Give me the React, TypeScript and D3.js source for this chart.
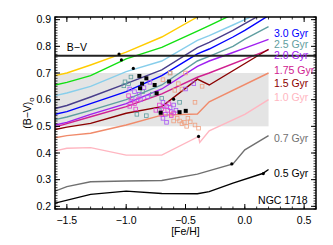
import * as d3 from 'd3';
import React from 'react';

// isochrone ages and their (B-V)0 vs [Fe/H] tracks
const ages = ['old4', 'old3', 'old2', 'old1', '3.0', '2.5', '2.0', '1.75', '1.5', '1.25', '1.0', '0.7', '0.5'];

const fehGrid = [-1.6, -1.5, -1.3, -1.0, -0.7, -0.4, -0.3, -0.1, 0.0, 0.2];

const bvYellow = [0.69, 0.70, 0.73, 0.778, 0.835, 0.91, 0.935, 0.98, 1.0, 1.04];
const bvGreen = [0.655, 0.665, 0.69, 0.753, 0.796, 0.857, 0.878, 0.92, 0.94, 0.98];
const bvSkyBlue = [0.615, 0.625, 0.65, 0.705, 0.745, 0.822, 0.84, 0.88, 0.9, 0.94];
const bvSlate = [0.567, 0.578, 0.61, 0.66, 0.712, 0.795, 0.815, 0.86, 0.885, 0.935];
const bv30 = [0.545, 0.555, 0.585, 0.63, 0.69, 0.772, 0.79, 0.835, 0.86, 0.915];
const bv25 = [0.525, 0.535, 0.56, 0.6, 0.655, 0.745, 0.762, 0.8, 0.827, 0.874];
const bv20 = [0.505, 0.515, 0.545, 0.585, 0.64, 0.725, 0.745, 0.777, 0.793, 0.826];

const fehMid = [-1.6, -1.5, -1.3, -1.0, -0.7, -0.4, -0.3, 0.2];
const bv175 = [0.497, 0.51, 0.536, 0.574, 0.622, 0.684, 0.70, 0.787];
const bv15 = [0.488, 0.497, 0.511, 0.549, 0.574, 0.677, 0.655, 0.789];
const bv125 = [0.457, 0.465, 0.474, 0.505, 0.542, 0.546, 0.592, 0.70];

const feh10 = [-1.6, -1.5, -1.3, -1.0, -0.7, -0.39, -0.38, -0.3, 0.0, 0.2];
const bv10 = [0.408, 0.418, 0.42, 0.392, 0.392, 0.462, 0.44, 0.483, 0.545, 0.6];

const feh07 = [-1.6, -1.5, -1.3, -1.0, -0.7, -0.4, -0.1, 0.0, 0.2];
const bv07 = [0.257, 0.274, 0.292, 0.295, 0.297, 0.321, 0.359, 0.412, 0.465];

const feh05 = [-1.6, -1.3, -1.0, -0.7, -0.4, -0.3, -0.1, 0.15, 0.2];
const bv05 = [0.212, 0.245, 0.257, 0.248, 0.247, 0.255, 0.287, 0.323, 0.338];

const tracks = [
  { age: ages[0], feh: fehGrid, bv: bvYellow, color: '#ffcc00' },
  { age: ages[1], feh: fehGrid, bv: bvGreen, color: '#11e011' },
  { age: ages[2], feh: fehGrid, bv: bvSkyBlue, color: '#87ceeb' },
  { age: ages[3], feh: fehGrid, bv: bvSlate, color: '#483d8b' },
  { age: ages[4], feh: fehGrid, bv: bv30, color: '#0000ff' },
  { age: ages[5], feh: fehGrid, bv: bv25, color: '#5f9ea0' },
  { age: ages[6], feh: fehGrid, bv: bv20, color: '#a020f0' },
  { age: ages[7], feh: fehMid, bv: bv175, color: '#d02090' },
  { age: ages[8], feh: fehMid, bv: bv15, color: '#8b0000' },
  { age: ages[9], feh: fehMid, bv: bv125, color: '#f08a6a' },
  { age: ages[10], feh: feh10, bv: bv10, color: '#ffb6c1' },
  { age: ages[11], feh: feh07, bv: bv07, color: '#707070' },
  { age: ages[12], feh: feh05, bv: bv05, color: '#000000' },
];

// star clusters
const tealSq: [number, number][] = [
  [-1.01, 0.667], [-1.02, 0.652], [-0.98, 0.66], [-0.91, 0.545], [-0.83, 0.54], [-0.7, 0.605],
  [-0.63, 0.70], [-0.86, 0.63], [-0.78, 0.62], [-0.55, 0.59], [-0.96, 0.685], [-0.72, 0.56],
];
const violetSq: [number, number][] = [
  [-0.97, 0.64], [-0.93, 0.63], [-0.89, 0.62], [-0.85, 0.645], [-0.80, 0.665], [-0.95, 0.605],
  [-0.88, 0.60], [-0.82, 0.61], [-0.69, 0.59], [-0.66, 0.575], [-0.63, 0.57], [-0.6, 0.58],
  [-0.58, 0.56], [-0.62, 0.555], [-0.67, 0.545], [-0.69, 0.53], [-0.66, 0.515], [-0.43, 0.66], [-0.5, 0.64],
];
const magentaSq: [number, number][] = [
  [-0.98, 0.615], [-0.96, 0.595], [-0.93, 0.585], [-0.9, 0.6], [-0.97, 0.575], [-0.92, 0.565],
  [-0.72, 0.58], [-0.7, 0.565], [-0.68, 0.575], [-0.65, 0.56], [-0.62, 0.54], [-0.7, 0.545],
  [-0.75, 0.56], [-0.64, 0.585], [-0.6, 0.55],
];
const salmonSq: [number, number][] = [
  [-0.63, 0.70], [-0.56, 0.66], [-0.59, 0.635], [-0.42, 0.59], [-0.69, 0.675], [-0.53, 0.64],
  [-0.57, 0.53], [-0.55, 0.52], [-0.53, 0.51], [-0.51, 0.515], [-0.49, 0.50], [-0.46, 0.517],
  [-0.42, 0.505], [-0.39, 0.493], [-0.6, 0.52], [-0.62, 0.545], [-0.48, 0.53], [-0.5, 0.70], [-0.36, 0.65],
];
const blackSq: [number, number][] = [
  [-0.889, 0.689], [-0.83, 0.68], [-0.866, 0.66], [-0.883, 0.643], [-0.76, 0.655],
  [-0.743, 0.624], [-0.638, 0.668], [-0.709, 0.551], [-0.55, 0.553], [-0.498, 0.558],
];
const blackDots: [number, number][] = [
  [-1.06, 0.771], [-1.04, 0.749], [-0.94, 0.717], [-0.6, 0.602], [-0.39, 0.462], [-0.11, 0.359], [0.156, 0.323],
];

const bvLimit = 0.765;
const bandFeh = [-1.6, 0.2];
const bandBv = [0.5, 0.7];

const labelTexts = ['3.0 Gyr', '2.5 Gyr', '2.0 Gyr', '1.75 Gyr', '1.5 Gyr', '1.0 Gyr', '0.7 Gyr', '0.5 Gyr'];
const labelColors = ['#0000ff', '#5f9ea0', '#a020f0', '#d02090', '#8b0000', '#ffb6c1', '#707070', '#000000'];
const xTicks = [-1.5, -1.0, -0.5, 0.0, 0.5];
const yTicks = [0.2, 0.3, 0.4, 0.5, 0.6, 0.7, 0.8, 0.9];

const App: React.FC = () => {
  const W = 333;
  const H = 245;
  const margin = { top: 17, right: 17, bottom: 36, left: 55 };
  const w = W - margin.left - margin.right;
  const h = H - margin.top - margin.bottom;

  const x = d3.scaleLinear().domain([-1.6, 0.6]).range([0, w]);
  const y = d3.scaleLinear().domain([0.19, 0.91]).range([h, 0]);

  const line = d3.line<[number, number]>().x(d => x(d[0])).y(d => y(d[1]));

  const xMinor = d3.range(-16, 7).map(i => i / 10);
  const yMinor = d3.range(19, 92).map(i => i / 100);

  const font = 'Liberation Sans, Arial, Helvetica, sans-serif';
  const labelY = [0.85, 0.809, 0.768, 0.711, 0.663, 0.61, 0.456, 0.325];

  const sq = (pts: [number, number][], color: string, key: string) =>
    pts.map((p, i) => (
      <rect key={key + i} x={x(p[0]) - 1.8} y={y(p[1]) - 1.8} width={3.6} height={3.6}
        fill="none" stroke={color} strokeWidth={0.8} />
    ));

  return (
    <svg width={W} height={H} style={{ position: 'absolute', left: 0, top: 0 }} fontFamily={font}>
      <defs>
        <clipPath id="plot">
          <rect x={0} y={0} width={w} height={h} />
        </clipPath>
      </defs>
      <g transform={`translate(${margin.left},${margin.top})`}>
        <rect x={x(bandFeh[0])} y={y(bandBv[1])} width={x(bandFeh[1]) - x(bandFeh[0])}
          height={y(bandBv[0]) - y(bandBv[1])} fill="#e4e4e4" />
        <g clipPath="url(#plot)">
          {tracks.map(t => (
            <path key={t.age} d={line(t.feh.map((f, i) => [f, t.bv[i]]) as [number, number][]) || ''}
              fill="none" stroke={t.color} strokeWidth={1.4} />
          ))}
        </g>
        <line x1={0} x2={w} y1={y(bvLimit)} y2={y(bvLimit)} stroke="#222" strokeWidth={2} />
        <text x={x(-1.5)} y={y(bvLimit) - 5} fontSize={10.5} fill="#000">B−V</text>

        {sq(tealSq, '#5f9ea0', 't')}
        {sq(salmonSq, '#f0a080', 's')}
        {sq(violetSq, '#a855f7', 'v')}
        {sq(magentaSq, '#e040d0', 'm')}
        {blackSq.map((p, i) => (
          <rect key={'b' + i} x={x(p[0]) - 2} y={y(p[1]) - 2} width={4} height={4} fill="#000" />
        ))}
        {blackDots.map((p, i) => (
          <circle key={'d' + i} cx={x(p[0])} cy={y(p[1])} r={1.6} fill="#000" />
        ))}

        {labelTexts.map((t, i) => (
          <text key={t} x={x(0.245)} y={y(labelY[i])} dy="0.35em" fontSize={10.5} fill={labelColors[i]}>{t}</text>
        ))}
        <text x={x(0.53)} y={y(0.21)} textAnchor="end" fontSize={10.5} fill="#000">NGC 1718</text>

        {/* frame and ticks */}
        <rect x={0} y={0} width={w} height={h} fill="none" stroke="#000" strokeWidth={1.5} />
        {xMinor.map(v => (
          <g key={'xm' + v}>
            <line x1={x(v)} x2={x(v)} y1={h} y2={h - 2.5} stroke="#000" strokeWidth={0.8} />
            <line x1={x(v)} x2={x(v)} y1={0} y2={2.5} stroke="#000" strokeWidth={0.8} />
          </g>
        ))}
        {xTicks.map(v => (
          <g key={'xt' + v}>
            <line x1={x(v)} x2={x(v)} y1={h} y2={h - 5} stroke="#000" strokeWidth={1} />
            <line x1={x(v)} x2={x(v)} y1={0} y2={5} stroke="#000" strokeWidth={1} />
            <text x={x(v)} y={h + 15} textAnchor="middle" fontSize={10.5}>{d3.format('.1f')(v).replace('-', '−')}</text>
          </g>
        ))}
        {yMinor.map(v => (
          <g key={'ym' + v}>
            <line x1={0} x2={2.5} y1={y(v)} y2={y(v)} stroke="#000" strokeWidth={0.8} />
            <line x1={w} x2={w - 2.5} y1={y(v)} y2={y(v)} stroke="#000" strokeWidth={0.8} />
          </g>
        ))}
        {yTicks.map(v => (
          <g key={'yt' + v}>
            <line x1={0} x2={5} y1={y(v)} y2={y(v)} stroke="#000" strokeWidth={1} />
            <line x1={w} x2={w - 5} y1={y(v)} y2={y(v)} stroke="#000" strokeWidth={1} />
            <text x={-4} y={y(v)} dy="0.35em" textAnchor="end" fontSize={10.5}>{d3.format('.1f')(v)}</text>
          </g>
        ))}
        <text x={w / 2} y={h + 26} textAnchor="middle" fontSize={10.5}>[Fe/H]</text>
        <text transform={`translate(${-24},${h / 2}) rotate(-90)`} textAnchor="middle" fontSize={10.5}>
          (B−V)<tspan fontSize={8} dy={3}>o</tspan>
        </text>
      </g>
    </svg>
  );
};

export default App;
